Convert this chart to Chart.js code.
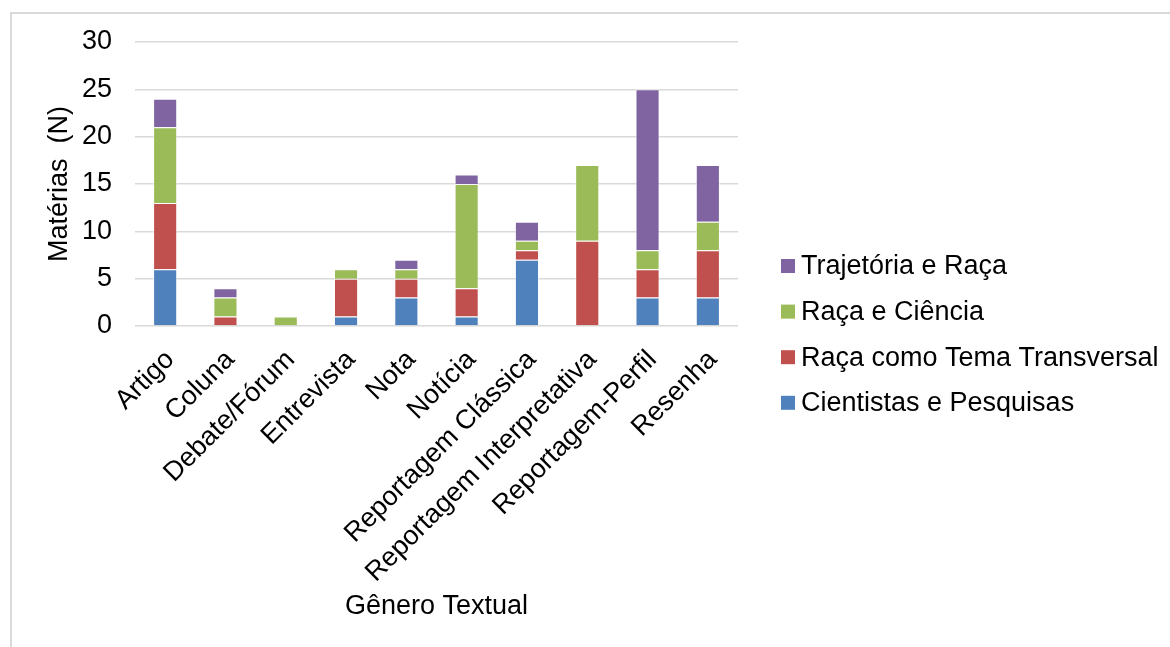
<!DOCTYPE html>
<html>
<head>
<meta charset="utf-8">
<script src="https://cdn.jsdelivr.net/npm/chart.js@4/dist/chart.umd.min.js"></script>
<style>
  html, body { margin: 0; padding: 0; background: #ffffff; }
  #wrap { position: relative; width: 1170px; height: 647px; }
</style>
</head>
<body>
<div id="wrap"><canvas id="chart"></canvas></div>
<script>
// Gêneros textuais (eixo X)
const categories = [
  'Artigo', 'Coluna', 'Debate/Fórum', 'Entrevista', 'Nota', 'Notícia',
  'Reportagem Clássica', 'Reportagem Interpretativa', 'Reportagem-Perfil', 'Resenha'
];

// Número de matérias por tema
const cientistasPesquisas = [6, 0, 0, 1, 3, 1, 7, 0, 3, 3];
const racaTemaTransversal = [7, 1, 0, 4, 2, 3, 1, 9, 3, 5];
const racaCiencia         = [8, 2, 1, 1, 1, 11, 1, 8, 2, 3];
const trajetoriaRaca      = [3, 1, 0, 0, 1, 1, 2, 0, 17, 6];

const seriesNames = [
  'Cientistas e Pesquisas',
  'Raça como Tema Transversal',
  'Raça e Ciência',
  'Trajetória e Raça'
];

const yTicks = [0, 5, 10, 15, 20, 25, 30];

const colors = ['#4F81BD', '#C0504D', '#9BBB59', '#8064A2'];
const FONT = 'Liberation Sans, Arial, sans-serif';

const seriesData = [cientistasPesquisas, racaTemaTransversal, racaCiencia, trajetoriaRaca];

// Moldura cinza clara em volta do gráfico
const framePlugin = {
  id: 'frame',
  beforeDraw(chart) {
    const ctx = chart.ctx;
    ctx.save();
    ctx.strokeStyle = '#d9d9d9';
    ctx.lineWidth = 2;
    ctx.beginPath();
    ctx.moveTo(11, chart.height);
    ctx.lineTo(11, 13);
    ctx.lineTo(chart.width, 13);
    ctx.stroke();
    ctx.restore();
  }
};

// Legenda à direita, em ordem inversa das séries empilhadas
const sideLegend = {
  id: 'sideLegend',
  afterDraw(chart) {
    const ctx = chart.ctx;
    const ds = chart.data.datasets;
    const boxX = 781, box = 14, textX = 801, y0 = 266, step = 45.6;
    ctx.save();
    ctx.font = '27px ' + FONT;
    ctx.textBaseline = 'middle';
    ctx.textAlign = 'left';
    for (let k = 0; k < ds.length; k++) {
      const d = ds[ds.length - 1 - k];
      const y = y0 + k * step;
      ctx.fillStyle = d.backgroundColor;
      ctx.fillRect(boxX, y - box / 2, box, box);
      ctx.fillStyle = '#000000';
      ctx.fillText(d.label, textX, y + 1);
    }
    ctx.restore();
  }
};

new Chart(document.getElementById('chart'), {
  type: 'bar',
  data: {
    labels: categories,
    datasets: seriesNames.map((name, i) => ({
      label: name,
      data: seriesData[i],
      backgroundColor: colors[i],
      borderColor: 'rgba(255,255,255,0.55)',
      borderWidth: 1,
      barPercentage: 0.4,
      categoryPercentage: 1.0
    }))
  },
  options: {
    responsive: true,
    maintainAspectRatio: false,
    animation: false,
    layout: { padding: { left: 0, top: 42, right: 432, bottom: 0 } },
    plugins: {
      legend: { display: false },
      tooltip: { enabled: false }
    },
    scales: {
      x: {
        stacked: true,
        grid: { display: false, drawTicks: false },
        border: { display: false },
        ticks: {
          color: '#000000',
          font: { family: FONT, size: 27 },
          minRotation: 45,
          maxRotation: 45,
          autoSkip: false,
          padding: 18,
          labelOffset: 5
        },
        title: {
          display: true,
          text: 'Gênero Textual',
          color: '#000000',
          font: { family: FONT, size: 27 },
          padding: { top: 0, bottom: 24 }
        },
        afterFit(scale) { scale.height = 647 - 326; }
      },
      y: {
        stacked: true,
        min: 0,
        max: 30,
        afterBuildTicks(scale) { scale.ticks = yTicks.map(v => ({ value: v })); },
        grid: { color: '#d9d9d9', lineWidth: 1.5, drawTicks: false },
        border: { display: false },
        ticks: {
          color: '#000000',
          font: { family: FONT, size: 27 },
          padding: 23
        },
        title: {
          display: true,
          text: 'Matérias  (N)',
          color: '#000000',
          font: { family: FONT, size: 27 },
          padding: { top: 43, bottom: 0 }
        },
        afterFit(scale) { scale.width = 135; }
      }
    }
  },
  plugins: [framePlugin, sideLegend]
});
</script>
</body>
</html>
